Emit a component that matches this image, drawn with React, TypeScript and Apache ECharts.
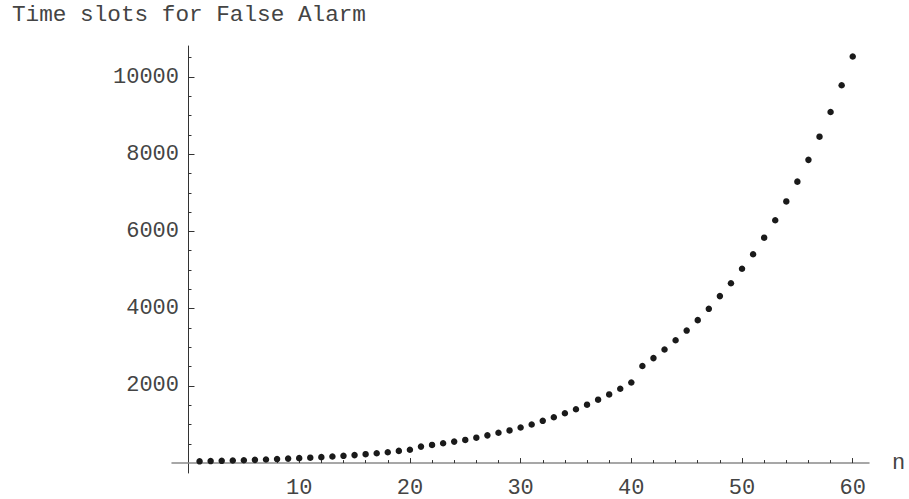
import React, { useEffect, useRef } from "react";
import * as echarts from "echarts";

const titleText = "Time slots for False Alarm";
const xName = "n";
const nValues = [
  1, 2, 3, 4, 5, 6, 7, 8, 9, 10, 11, 12, 13, 14, 15, 16, 17, 18, 19, 20,
  21, 22, 23, 24, 25, 26, 27, 28, 29, 30, 31, 32, 33, 34, 35, 36, 37, 38, 39, 40,
  41, 42, 43, 44, 45, 46, 47, 48, 49, 50, 51, 52, 53, 54, 55, 56, 57, 58, 59, 60,
];
const slotValues = [
  45, 52, 58, 66, 74, 83, 94, 104, 116, 128, 140, 154, 170, 188, 206, 231, 256, 282, 316, 345,
  427, 470, 513, 556, 600, 658, 718, 787, 846, 923, 1000, 1094, 1188, 1291, 1394, 1513, 1642, 1778, 1924, 2086,
  2514, 2719, 2941, 3181, 3432, 3702, 3995, 4325, 4658, 5034, 5410, 5838, 6290, 6777, 7290, 7854, 8454, 9095, 9787, 10530,
];
const xMajorTicks = [10, 20, 30, 40, 50, 60];
const xMinorTicks = [2, 4, 6, 8, 12, 14, 16, 18, 22, 24, 26, 28, 32, 34, 36, 38, 42, 44, 46, 48, 52, 54, 56, 58];
const yMajorTicks = [2000, 4000, 6000, 8000, 10000];
const yMinorTicks = [
  500, 1000, 1500, 2500, 3000, 3500, 4500, 5000, 5500, 6500, 7000, 7500, 8500, 9000, 9500, 10500,
];

const FONT = "Liberation Mono";
const TEXT = "#444444";

export default function App() {
  const ref = useRef<HTMLDivElement>(null);
  useEffect(() => {
    document.body.style.margin = "0";
    if (!ref.current) return;
    const chart = echarts.init(ref.current, undefined, { renderer: "svg" });
    const xMin = -1.49;
    const xMax = 61.47;
    const yMin = -257;
    const yMax = 10803;
    chart.setOption({
      animation: false,
      backgroundColor: "#ffffff",
      title: {
        text: titleText,
        left: 7,
        top: -2,
        textStyle: { fontFamily: FONT, fontSize: 22.7, fontWeight: "normal", color: TEXT },
      },
      grid: { left: 172, right: 40, top: 46, bottom: 22, containLabel: false },
      xAxis: [
        {
          type: "value",
          min: xMin,
          max: xMax,
          name: xName,
          nameLocation: "end",
          nameGap: 23,
          nameTextStyle: { fontFamily: FONT, fontSize: 22, color: TEXT, verticalAlign: "middle" },
          axisLine: { show: true, onZero: true, lineStyle: { color: "#8a8a8a", width: 1.5 } },
          axisTick: { show: true, inside: true, length: 5, customValues: xMajorTicks, lineStyle: { color: "#333", width: 1 } },
          axisLabel: { show: true, customValues: xMajorTicks, margin: 4, fontFamily: FONT, fontSize: 22, color: TEXT },
          splitLine: { show: false },
        },
        {
          type: "value",
          min: xMin,
          max: xMax,
          position: "bottom",
          axisLine: { show: false, onZero: true, onZeroAxisIndex: 0 },
          axisTick: { show: true, inside: true, length: 3, customValues: xMinorTicks, lineStyle: { color: "#333", width: 1 } },
          axisLabel: { show: false },
          splitLine: { show: false },
        },
      ],
      yAxis: [
        {
          type: "value",
          min: yMin,
          max: yMax,
          axisLine: { show: true, onZero: true, lineStyle: { color: "#333", width: 1 } },
          axisTick: { show: true, inside: true, length: 6, customValues: yMajorTicks, lineStyle: { color: "#333", width: 1 } },
          axisLabel: {
            show: true,
            customValues: yMajorTicks,
            margin: -7,
            fontFamily: FONT,
            fontSize: 22,
            color: TEXT,
            formatter: (v: number) => String(v),
          },
          splitLine: { show: false },
        },
        {
          type: "value",
          min: yMin,
          max: yMax,
          position: "left",
          axisLine: { show: false, onZero: true, onZeroAxisIndex: 0 },
          axisTick: { show: true, inside: true, length: 3, customValues: yMinorTicks, lineStyle: { color: "#333", width: 1 } },
          axisLabel: { show: false },
          splitLine: { show: false },
        },
      ],
      series: [
        {
          type: "scatter",
          xAxisIndex: 0,
          yAxisIndex: 0,
          symbol: "circle",
          symbolSize: 6.5,
          itemStyle: { color: "#1a1a1a", opacity: 1 },
          data: nValues.map((n, i) => [n, slotValues[i]]),
        },
      ],
    });
    return () => chart.dispose();
  }, []);
  return <div ref={ref} style={{ width: 909, height: 499 }} />;
}
